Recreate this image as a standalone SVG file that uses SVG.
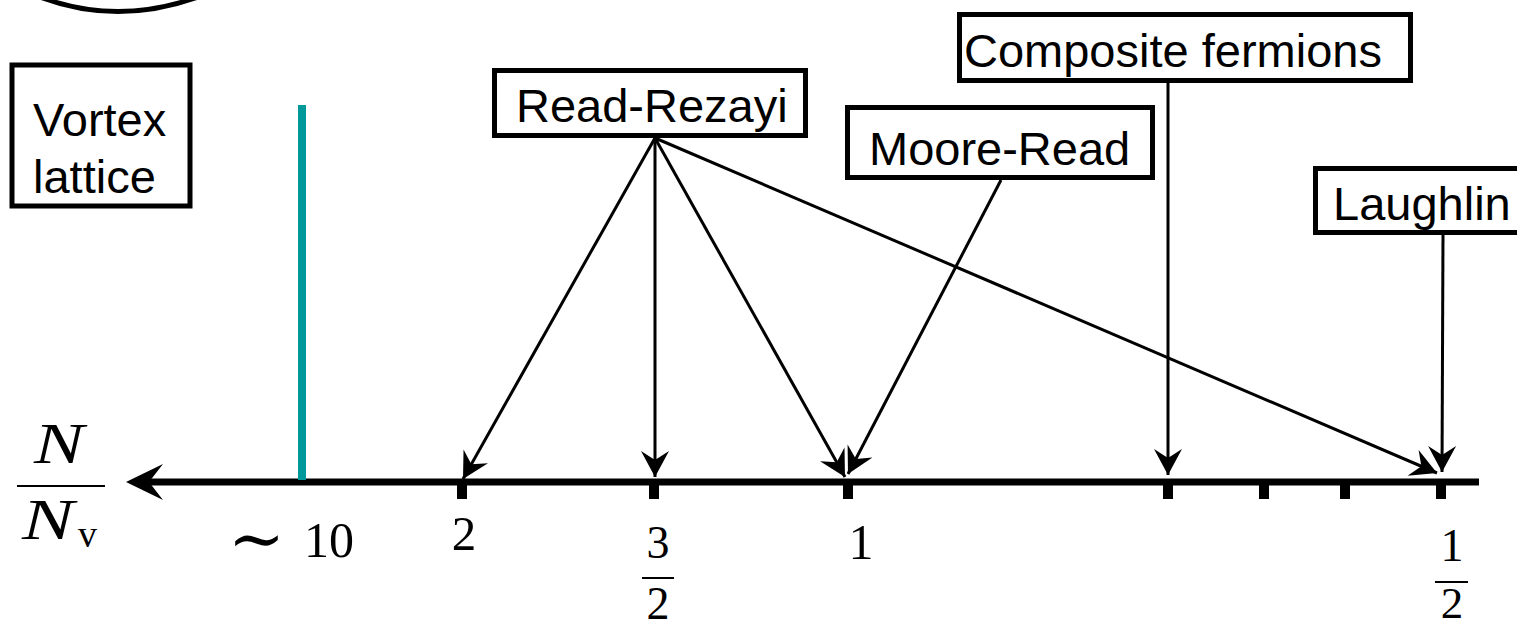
<svg xmlns="http://www.w3.org/2000/svg" width="1517" height="627" viewBox="0 0 1517 627">
  <style>
    .box { fill: #ffffff; stroke: #000000; stroke-width: 5; }
    .lbl { font-family: "Liberation Sans", Arial, sans-serif; font-size: 47px; fill: #000000; }
    .math { font-family: "Liberation Serif", "DejaVu Serif", serif; fill: #000000; }
    .conn { stroke: #000000; stroke-width: 3; fill: none; marker-end: url(#head); }
    .tick { fill: #000000; }
    .bar { stroke: #000000; stroke-width: 2; }
  </style>
  <defs>
    <marker id="head" viewBox="-28 -15 30 30" refX="0" refY="0" markerWidth="30" markerHeight="30" markerUnits="userSpaceOnUse" orient="auto">
      <path d="M0,0 L-26,-14 L-17,0 L-26,14 Z" fill="#000000"/>
    </marker>
  </defs>
  <rect width="1517" height="627" fill="#ffffff"/>

  <!-- curved edge at the top left -->
  <path d="M40,-3 Q117,26 198,-3" fill="none" stroke="#000000" stroke-width="5"/>

  <!-- axis -->
  <g id="axis">
    <line x1="140" y1="482" x2="1479" y2="482" stroke="#000000" stroke-width="7"/>
    <path d="M126,482 L163,464 L149,482 L163,500 Z" fill="#000000"/>
    <rect class="tick" x="457" y="482" width="10" height="17"/>
    <rect class="tick" x="649" y="482" width="10" height="17"/>
    <rect class="tick" x="843" y="482" width="10" height="17"/>
    <rect class="tick" x="1163" y="482" width="10" height="17"/>
    <rect class="tick" x="1259" y="482" width="10" height="17"/>
    <rect class="tick" x="1340" y="482" width="10" height="17"/>
    <rect class="tick" x="1436" y="482" width="10" height="17"/>
  </g>

  <!-- transition line -->
  <line id="transition" x1="302" y1="105" x2="302" y2="480" stroke="#009999" stroke-width="8"/>

  <!-- axis labels -->
  <g id="axis-labels" class="math">
    <text x="34" y="463" font-size="57" font-style="italic" textLength="50" lengthAdjust="spacingAndGlyphs">N</text>
    <line class="bar" x1="17" y1="486" x2="105" y2="486"/>
    <text x="22" y="539" font-size="57" font-style="italic" textLength="52" lengthAdjust="spacingAndGlyphs">N</text>
    <text x="78" y="547" font-size="38">v</text>
    <text y="557" font-size="50"><tspan x="228" y="562" font-size="68">∼</tspan><tspan x="304" y="557">10</tspan></text>
    <text x="464" y="550" font-size="49" text-anchor="middle">2</text>
    <text x="658" y="558" font-size="46" text-anchor="middle">3</text>
    <line class="bar" x1="642" y1="578" x2="674" y2="578"/>
    <text x="658" y="619" font-size="46" text-anchor="middle">2</text>
    <text x="861" y="559" font-size="50" text-anchor="middle">1</text>
    <text x="1452" y="561" font-size="46" text-anchor="middle">1</text>
    <line class="bar" x1="1435" y1="582" x2="1468" y2="582"/>
    <text x="1452" y="618" font-size="45" text-anchor="middle">2</text>
  </g>

  <!-- nodes -->
  <g id="vortex-lattice">
    <rect class="box" x="12" y="65" width="178" height="141" stroke-width="4"/>
    <text class="lbl" x="33" y="136">Vortex</text>
    <text class="lbl" x="33" y="193">lattice</text>
  </g>
  <g id="read-rezayi">
    <rect class="box" x="494.5" y="70.5" width="311" height="65"/>
    <text class="lbl" x="516" y="122">Read-Rezayi</text>
  </g>
  <g id="moore-read">
    <rect class="box" x="847.5" y="107.5" width="305" height="70"/>
    <text class="lbl" x="869" y="165">Moore-Read</text>
  </g>
  <g id="composite-fermions">
    <rect class="box" x="959.5" y="14.5" width="451" height="66"/>
    <text class="lbl" x="964" y="67">Composite fermions</text>
  </g>
  <g id="laughlin">
    <rect class="box" x="1315.5" y="168.5" width="230" height="64"/>
    <text class="lbl" x="1333" y="220">Laughlin</text>
  </g>

  <!-- connectors -->
  <g id="connectors">
    <line class="conn" x1="655" y1="138" x2="463" y2="479"/>
    <line class="conn" x1="655" y1="138" x2="655" y2="477"/>
    <line class="conn" x1="655" y1="138" x2="845" y2="477"/>
    <line class="conn" x1="655" y1="138" x2="1437" y2="473"/>
    <line class="conn" x1="1001" y1="180" x2="848" y2="474"/>
    <line class="conn" x1="1168" y1="83" x2="1168" y2="475"/>
    <line class="conn" x1="1443" y1="235" x2="1442" y2="472"/>
  </g>
</svg>
